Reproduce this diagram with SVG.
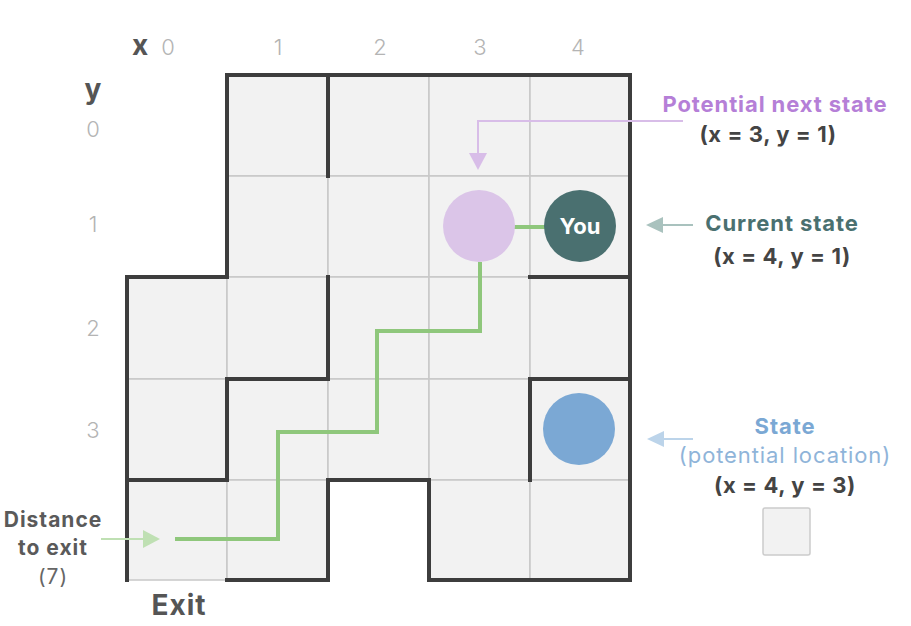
<svg xmlns="http://www.w3.org/2000/svg" width="911" height="626" viewBox="0 0 911 626">
<defs>
<style>
.cell{fill:#f2f2f2;stroke:#c8c8c8;stroke-width:1.5}
.wall{fill:none;stroke:#3d3d3d;stroke-width:4;stroke-linecap:square;stroke-linejoin:miter}
.path{fill:none;stroke:#8fc77c;stroke-width:4;stroke-linejoin:miter}
.ax{font-family:Inter,'Liberation Sans',sans-serif;font-size:22px;fill:#b4b4b4;text-anchor:middle;font-weight:300}
.axl{font-family:Inter,'Liberation Sans',sans-serif;font-size:28px;fill:#555;font-weight:700;text-anchor:middle}
.t{font-family:Inter,'Liberation Sans',sans-serif;text-anchor:middle}
.b{font-weight:700}
.h{font-size:22px;font-weight:700;letter-spacing:0.9px}
.c{font-size:22px;font-weight:700;fill:#444;letter-spacing:0.6px}
</style>
</defs>
<rect width="911" height="626" fill="#fff"/>
<g id="grid">
<rect class="cell" x="227" y="75" width="101" height="101"/>
<rect class="cell" x="328" y="75" width="101" height="101"/>
<rect class="cell" x="429" y="75" width="101" height="101"/>
<rect class="cell" x="530" y="75" width="100" height="101"/>
<rect class="cell" x="227" y="176" width="101" height="101"/>
<rect class="cell" x="328" y="176" width="101" height="101"/>
<rect class="cell" x="429" y="176" width="101" height="101"/>
<rect class="cell" x="530" y="176" width="100" height="101"/>
<rect class="cell" x="127" y="277" width="100" height="102"/>
<rect class="cell" x="227" y="277" width="101" height="102"/>
<rect class="cell" x="328" y="277" width="101" height="102"/>
<rect class="cell" x="429" y="277" width="101" height="102"/>
<rect class="cell" x="530" y="277" width="100" height="102"/>
<rect class="cell" x="127" y="379" width="100" height="101"/>
<rect class="cell" x="227" y="379" width="101" height="101"/>
<rect class="cell" x="328" y="379" width="101" height="101"/>
<rect class="cell" x="429" y="379" width="101" height="101"/>
<rect class="cell" x="530" y="379" width="100" height="101"/>
<rect class="cell" x="127" y="480" width="100" height="100"/>
<rect class="cell" x="227" y="480" width="101" height="100"/>
<rect class="cell" x="429" y="480" width="101" height="100"/>
<rect class="cell" x="530" y="480" width="100" height="100"/>
</g>
<g id="walls">
<path class="wall" d="M127,580V277H227V75H630V580H429V480H328V580H227"/>
<path class="wall" d="M328,75V176"/>
<path class="wall" d="M530,277H630"/>
<path class="wall" d="M328,277V379"/>
<path class="wall" d="M328,379H227V480H127"/>
<path class="wall" d="M630,379H530V480"/>
</g>
<g id="axes">
<text class="axl" x="140" y="55">x</text>
<text class="ax" x="168" y="55">0</text>
<text class="ax" x="278" y="55">1</text>
<text class="ax" x="380" y="55">2</text>
<text class="ax" x="480" y="55">3</text>
<text class="ax" x="578" y="55">4</text>
<text class="axl" x="93" y="99">y</text>
<text class="ax" x="93" y="137">0</text>
<text class="ax" x="93" y="232">1</text>
<text class="ax" x="93" y="336">2</text>
<text class="ax" x="93" y="438">3</text>
</g>
<g id="connectors">
<path class="path" d="M175,539H278V432H377V331H480V262"/>
<path class="path" d="M514,227H545"/>
<path d="M683,121H478V154" fill="none" stroke="#d8bde8" stroke-width="2"/>
<path d="M469,153L487,153L478,170z" fill="#d8bde8"/>
<path d="M693,225H662" stroke="#a9c2be" stroke-width="2"/>
<path d="M646,225L663,217L663,233z" fill="#a9c2be"/>
<path d="M693,439H662" stroke="#bcd4ea" stroke-width="2"/>
<path d="M647,439L664,431L664,447z" fill="#bcd4ea"/>
<path d="M101,539H143" stroke="#bfe0b3" stroke-width="2"/>
<path d="M160,539L143,530L143,548z" fill="#bfe0b3"/>
</g>
<g id="next-state">
<circle cx="479" cy="226" r="36" fill="#dbc5e8"/>
</g>
<g id="you">
<circle cx="580" cy="226" r="36" fill="#4a7070"/>
<text class="t b" x="580" y="234" font-size="22" fill="#fff">You</text>
</g>
<g id="state">
<circle cx="579" cy="429" r="36" fill="#7ba8d4"/>
</g>
<g id="label-next">
<text class="t h" x="775" y="112" fill="#b57fd7">Potential next state</text>
<text class="t c" x="768" y="142">(x = 3, y = 1)</text>
</g>
<g id="label-current">
<text class="t h" x="782" y="231" fill="#4a7070">Current state</text>
<text class="t c" x="782" y="264">(x = 4, y = 1)</text>
</g>
<g id="label-state">
<text class="t h" x="785" y="434" fill="#7ba8d4">State</text>
<text class="t" x="785" y="463" font-size="22" letter-spacing="0.9" fill="#8fb4d9">(potential location)</text>
<text class="t c" x="785" y="493">(x = 4, y = 3)</text>
<rect x="763" y="508" width="47" height="47" rx="2" fill="#f2f2f2" stroke="#cccccc" stroke-width="1.5"/>
</g>
<g id="label-distance">
<text class="t b" x="53" y="527" font-size="21" letter-spacing="1" fill="#5a5a5a">Distance</text>
<text class="t b" x="53" y="555" font-size="21" letter-spacing="1" fill="#5a5a5a">to exit</text>
<text class="t" x="53" y="584" font-size="21" letter-spacing="1" fill="#666">(7)</text>
</g>
<g id="label-exit">
<text class="t b" x="179" y="615" font-size="28" letter-spacing="1" fill="#555">Exit</text>
</g>
</svg>
